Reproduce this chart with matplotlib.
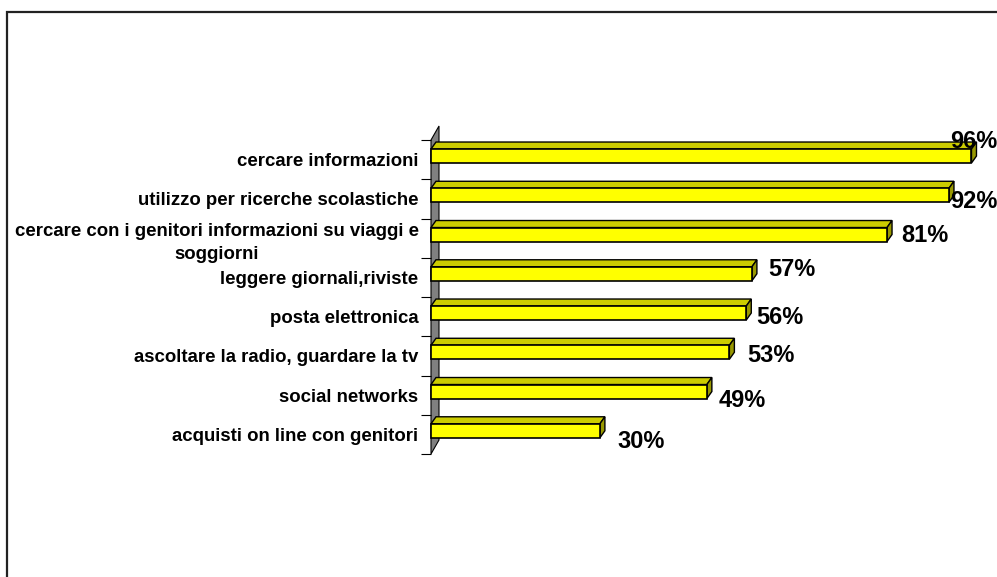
import matplotlib.pyplot as plt
from matplotlib.patches import Polygon, Rectangle

plt.rcParams['font.family'] = ['Liberation Sans', 'DejaVu Sans']

categories = ["cercare informazioni",
              "utilizzo per ricerche scolastiche",
              "cercare con i genitori informazioni su viaggi e\nsoggiorni",
              "leggere giornali,riviste",
              "posta elettronica",
              "ascoltare la radio, guardare la tv",
              "social networks",
              "acquisti on line con genitori"]
values = [96, 92, 81, 57, 56, 53, 49, 30]
value_labels = ["96%", "92%", "81%", "57%", "56%", "53%", "49%", "30%"]

# hand placed label nudges (pixels from the bar end / row centre)
nudge_x = [-21, 1, 14, 16, 10, 18, 12, 18]
nudge_y = [-21, 0, -5, -10, -2, -3, 3, 5]

W, H = 997, 577
fig = plt.figure(figsize=(W / 100, H / 100), dpi=100)
ax = fig.add_axes([431 / W, 1 - 454 / H, 563 / W, 314 / H])
n = len(values)
ax.set_xlim(0, 100)
ax.set_ylim(n - 0.5, -0.5)

px = 100 / 563          # x data units per pixel
py = n / 314            # y data units per pixel

# side wall
wdx, wdy = 8 * px, 14 * py
wall = Polygon([(0, n - 0.5), (0, -0.5), (wdx, -0.5 - wdy), (wdx, n - 0.5 - wdy)],
               closed=True, facecolor='#808080', edgecolor='black', lw=0.8,
               clip_on=False, zorder=1)
ax.add_patch(wall)

# 3d bars
bdx, bdy = 5 * px, 7 * py
for i, v in enumerate(values):
    top = i - 10.6 * py
    bot = i + 3.4 * py
    front = Polygon([(0, top), (v, top), (v, bot), (0, bot)], closed=True,
                    facecolor='#FFFF00', edgecolor='black', lw=1.2, clip_on=False, zorder=4)
    lid = Polygon([(0, top), (v, top), (v + bdx, top - bdy), (bdx, top - bdy)], closed=True,
                  facecolor='#CCCC00', edgecolor='black', lw=1.0, clip_on=False, zorder=3)
    side = Polygon([(v, top), (v, bot), (v + bdx, bot - bdy), (v + bdx, top - bdy)], closed=True,
                   facecolor='#999900', edgecolor='black', lw=1.0, clip_on=False, zorder=3)
    ax.add_patch(lid)
    ax.add_patch(side)
    ax.add_patch(front)
    ax.annotate(value_labels[i], xy=(v, i), xytext=(nudge_x[i] * 0.72, -(nudge_y[i] + 9) * 0.72),
                textcoords='offset points', ha='left', va='baseline',
                fontsize=17, fontweight='bold', color='black', zorder=6,
                annotation_clip=False)

ax.set_yticks(range(n))
ax.set_yticklabels(categories, fontsize=13.4, fontweight='bold',
                   multialignment='center', linespacing=1.45)
ax.set_yticks([k - 0.5 for k in range(n + 1)], minor=True)
ax.tick_params(axis='y', which='major', length=0, pad=9)
ax.tick_params(axis='y', which='minor', length=7, width=0.8, direction='out')
ax.set_xticks([])
for s in ax.spines.values():
    s.set_visible(False)
ax.patch.set_visible(False)

# chart area border
fig.patches.append(Rectangle((6.5 / W, -0.2), 2, 1.2 - 11.5 / H, transform=fig.transFigure,
                             fill=False, edgecolor='#222222', lw=1.6))

fig.savefig('out.png', dpi=100)
